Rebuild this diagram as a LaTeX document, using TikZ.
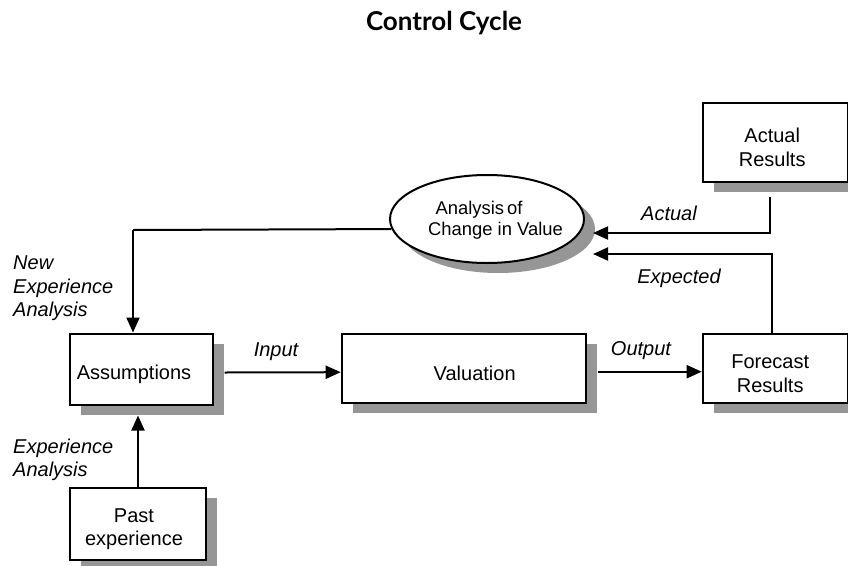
\documentclass[tikz,border=0pt]{standalone}
\usepackage{fontspec}
\setmainfont{Liberation Sans}
\newfontfamily\titlefont{Lato}
\usetikzlibrary{arrows.meta,shadows,shapes.geometric}
\definecolor{shade}{RGB}{150,150,150}
\begin{document}
\begin{tikzpicture}[x=1pt,y=-1pt,
  lw/.style={line width=2pt},
  shadowed/.style={drop shadow={shadow xshift=11pt,shadow yshift=-10pt,fill=shade,opacity=1}},
  boxtext/.style={align=center,inner sep=0pt,font=\fontsize{20}{23.5}\selectfont},
  box/.style={lw,draw=black,fill=white,inner sep=0pt,shadowed},
  conn/.style={lw},
  arr/.style={lw,-{Triangle[length=15pt,width=13pt]}},
  tag/.style={inner sep=0pt,align=left,font=\fontsize{20}{23.5}\selectfont\itshape}]
\useasboundingbox (0,0) rectangle (848,565);

% title
\node[font=\titlefont\bfseries\fontsize{26}{30}\selectfont] (title) at (444,23) {Control Cycle};

% boxes
\node[box,minimum width=143pt,minimum height=71pt,
  label={[boxtext,xshift=-7pt,yshift=-5pt]center:Assumptions}] (asm) at (141,369) {};
\node[box,minimum width=244pt,minimum height=69pt,
  label={[boxtext,xshift=11pt,yshift=-5pt]center:Valuation}] (val) at (463.7,368.7) {};
\node[box,minimum width=145pt,minimum height=69pt,
  label={[boxtext,xshift=-5pt,yshift=-5pt]center:Forecast\\Results}] (fc) at (775.2,368.7) {};
\node[box,minimum width=145pt,minimum height=79pt,
  label={[boxtext,xshift=-3pt,yshift=-5pt]center:Actual\\Results}] (ar) at (775.2,142.5) {};
\node[box,minimum width=136pt,minimum height=72pt,
  label={[boxtext,xshift=-4pt,yshift=-5pt]center:Past\\experience}] (past) at (138,524) {};

% analysis ellipse
\node[box,ellipse,minimum width=194pt,minimum height=88pt,
  label={[boxtext,font=\fontsize{18.4}{21}\selectfont,xshift=8.5pt,yshift=-1.5pt]center:Analysis\kern3pt of\hspace*{33pt}\\Change in Value}] (ell) at (487,219) {};

% connector bends and free ends
\coordinate (nk) at (133,230);
\coordinate (acttop) at (770,197);
\coordinate (actin) at (593,233);
\coordinate (expx) at (772,254);
\coordinate (expin) at (593,254);

% connectors
\draw[conn] (ell.186) -- (nk);
\draw[arr] (nk) -- (nk |- asm.north);
\draw[arr] (past.north) -- ([yshift=-10pt]asm.south -| past.north);
\draw[arr] ([xshift=11pt,yshift=-3.5pt]asm.east) -- ([yshift=-3.5pt]val.west);
\draw[arr] ([xshift=11pt,yshift=-3pt]val.east) -- ([yshift=-3pt]fc.west);
\draw[arr] (acttop) |- (actin);
\draw[arr] (fc.north -| expx) -- (expx) -- (expin);

% connector labels
\node[tag] (tin) at (276,351.5) {Input};
\node[tag] (tout) at (641,350.5) {Output};
\node[tag] (tact) at (669,213) {Actual};
\node[tag] (texp) at (679,278) {Expected};
\node[tag,anchor=west] (tnew) at (13,288.3) {New\\Experience\\Analysis};
\node[tag,anchor=west] (tpast) at (13,459.8) {Experience\\Analysis};
\end{tikzpicture}
\end{document}
